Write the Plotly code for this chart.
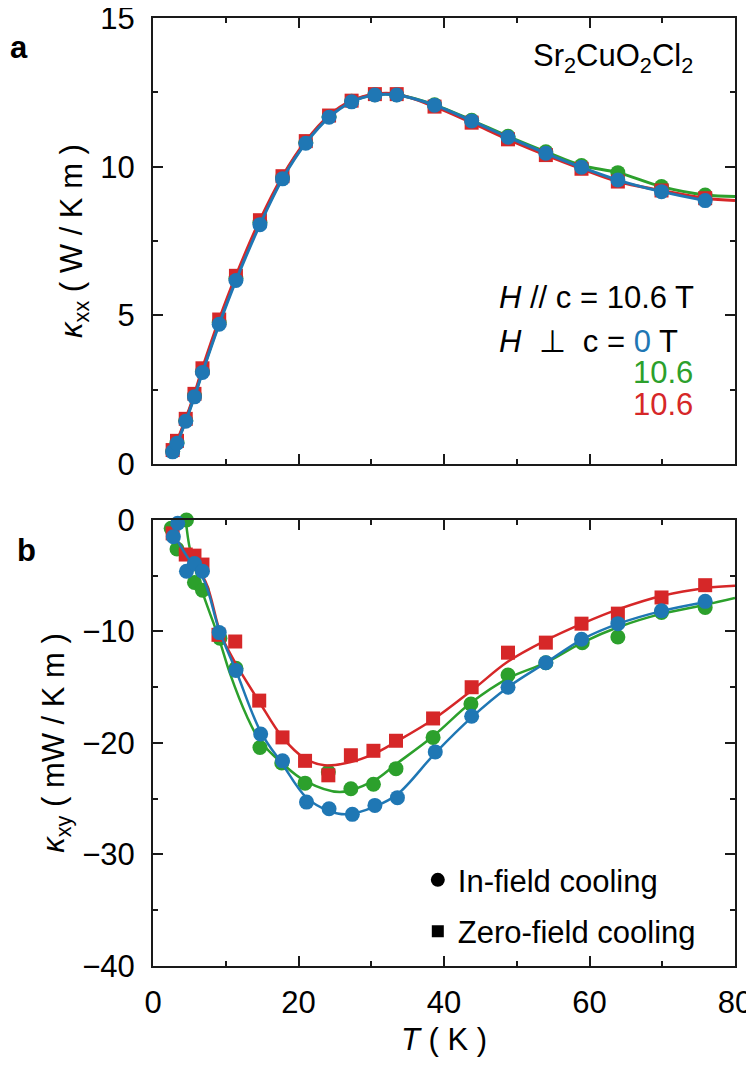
import plotly.graph_objects as go

# ---------------- data ----------------
# panel a : kappa_xx (W/K m)
T_a = [2.7, 3.3, 4.5, 5.7, 6.8, 9.1, 11.4, 14.7, 17.8, 21.0, 24.2, 27.3, 30.5, 33.5,
       38.7, 43.8, 48.8, 54.0, 58.9, 63.9, 69.9, 75.9]
kxx_blue = [0.41, 0.70, 1.44, 2.26, 3.08, 4.70, 6.17, 8.05, 9.59, 10.79, 11.66, 12.18,
            12.41, 12.41, 12.07, 11.54, 10.99, 10.45, 9.98, 9.55, 9.16, 8.86]
kxx_green = [0.43, 0.72, 1.47, 2.30, 3.12, 4.76, 6.24, 8.12, 9.64, 10.82, 11.69, 12.20,
             12.42, 12.42, 12.08, 11.56, 11.02, 10.50, 10.04, 9.80, 9.33, 9.05]
kxx_red = [0.47, 0.78, 1.52, 2.36, 3.22, 4.86, 6.33, 8.20, 9.68, 10.86, 11.72, 12.22,
           12.44, 12.44, 12.02, 11.48, 10.92, 10.39, 9.93, 9.50, 9.20, 8.94]
T_a_end = [80.0]
kxx_green_end = [9.00]
kxx_red_end = [8.86]

# panel b : kappa_xy (mW/K m), measured points
T_b_blue = [2.8, 3.4, 4.6, 5.7, 6.8, 9.1, 11.4, 14.8, 17.8, 21.1, 24.2, 27.4, 30.5, 33.6,
            38.8, 43.8, 48.8, 54.0, 58.9, 63.9, 69.9, 75.9]
kxy_blue = [-1.5, -0.3, -4.6, -3.9, -4.6, -10.1, -13.5, -19.2, -21.6, -25.3, -25.9, -26.4,
            -25.6, -24.9, -20.8, -17.6, -15.0, -12.8, -10.7, -9.3, -8.15, -7.3]
T_b_green = [2.5, 3.3, 4.6, 5.7, 6.8, 9.2, 11.4, 14.7, 17.7, 20.9, 24.1, 27.2, 30.3, 33.4,
             38.5, 43.7, 48.8, 54.0, 59.0, 63.9, 69.9, 75.9]
kxy_green = [-0.75, -2.6, 0.0, -5.6, -6.3, -10.6, -13.3, -20.4, -21.8, -23.6, -22.6, -24.1,
             -23.7, -22.3, -19.5, -16.5, -13.9, -12.8, -11.0, -10.5, -8.3, -7.85]
T_b_red = [2.7, 4.5, 5.7, 6.8, 9.0, 11.3, 14.6, 17.8, 20.9, 24.1, 27.2, 30.3, 33.4, 38.5,
           43.8, 48.8, 54.0, 58.9, 63.9, 69.9, 75.9]
kxy_red = [-1.2, -3.1, -3.2, -4.0, -10.3, -10.9, -16.2, -19.5, -21.6, -22.9, -21.1, -20.7,
           -19.8, -17.8, -15.0, -11.9, -11.0, -9.3, -8.4, -6.95, -5.85]

# panel b : smooth guide curves
T_fit_blue = [2.8, 4.6, 7.0, 9.1, 11.4, 14.8, 17.8, 21.1, 24.2, 26.6, 30.5, 33.6, 38.8,
              43.8, 48.8, 54.0, 59.0, 64.0, 70.0, 76.0]
kxy_fit_blue = [-1.2, -3.2, -5.4, -9.9, -13.5, -19.0, -21.9, -24.9, -26.1, -26.4, -25.7,
                -24.6, -20.9, -17.7, -15.0, -12.8, -10.7, -9.3, -8.15, -7.35]
T_fit_green = [4.5, 5.1, 6.7, 9.0, 10.6, 12.9, 14.7, 17.7, 20.9, 25.7, 30.3, 33.4, 38.5,
               43.7, 48.8, 54.0, 59.0, 64.0, 70.0, 76.0, 80.0]
kxy_fit_green = [0.0, -2.7, -6.3, -10.5, -13.8, -17.6, -19.8, -21.8, -23.4, -24.4, -23.4,
                 -21.9, -19.4, -16.4, -14.2, -12.8, -11.0, -9.6, -8.4, -7.6, -7.0]
T_fit_red = [2.5, 4.9, 7.2, 9.3, 11.3, 14.6, 17.8, 20.9, 23.6, 27.2, 30.3, 33.4, 38.5,
             43.8, 48.8, 54.0, 59.0, 64.0, 70.0, 76.0, 80.0]
kxy_fit_red = [-1.0, -3.4, -5.5, -10.2, -12.8, -16.3, -19.5, -21.4, -22.0, -21.7, -21.0,
               -19.9, -17.9, -15.3, -12.7, -10.8, -9.3, -8.0, -6.8, -6.1, -5.9]

x_ticks = [0, 20, 40, 60, 80]
ya_ticks = [0, 5, 10, 15]
yb_ticks = [-40, -30, -20, -10, 0]
yb_ticktext = ["−40", "−30", "−20", "−10", "0"]

BLUE = "#1f77b4"
GREEN = "#2ca02c"
RED = "#d62728"
FONT = "Liberation Sans, Arial, sans-serif"
FS = 31

# the page body has an 8 px margin: the figure is sized so the plot lands where the reference has it
OFF = 8
W, H = 754 - OFF, 1072 - OFF
ML, MR, MT, MB = 153 - OFF, 19, 18 - OFF, 106

fig = go.Figure()


def add_series(x, y, xl, yl, color, symbol, size, lw, xa, ya):
    fig.add_trace(go.Scatter(x=xl, y=yl, mode="lines",
                             line=dict(color=color, width=lw, shape="spline", smoothing=1.0),
                             xaxis=xa, yaxis=ya, showlegend=False, hoverinfo="skip"))
    fig.add_trace(go.Scatter(x=x, y=y, mode="markers",
                             marker=dict(color=color, symbol=symbol, size=size, line=dict(width=0)),
                             xaxis=xa, yaxis=ya, showlegend=False, cliponaxis=False))


# ---- panel a ----
add_series(T_a, kxx_green, T_a + T_a_end, kxx_green + kxx_green_end, GREEN, "circle", 15, 3, "x", "y")
add_series(T_a, kxx_red, T_a + T_a_end, kxx_red + kxx_red_end, RED, "square", 14, 3, "x", "y")
add_series(T_a, kxx_blue, T_a, kxx_blue, BLUE, "circle", 15, 3, "x", "y")

# ---- panel b ----
add_series(T_b_green, kxy_green, T_fit_green, kxy_fit_green, GREEN, "circle", 15, 2.5, "x2", "y2")
add_series(T_b_red, kxy_red, T_fit_red, kxy_fit_red, RED, "square", 14, 2.5, "x2", "y2")
add_series(T_b_blue, kxy_blue, T_fit_blue, kxy_fit_blue, BLUE, "circle", 15, 2.5, "x2", "y2")

# legend entries
fig.add_trace(go.Scatter(x=[None], y=[None], mode="markers", name="In-field cooling",
                         marker=dict(color="black", symbol="circle", size=14),
                         xaxis="x2", yaxis="y2", legendgroup="a"))
fig.add_trace(go.Scatter(x=[None], y=[None], mode="markers", name="Zero-field cooling",
                         marker=dict(color="black", symbol="square", size=12),
                         xaxis="x2", yaxis="y2", legendgroup="b"))

axis_common = dict(showline=True, linewidth=2, linecolor="#1a1a1a", mirror="ticks",
                   ticks="inside", ticklen=10, tickwidth=2, tickcolor="#1a1a1a",
                   showgrid=False, zeroline=False, automargin=False,
                   ticklabeloverflow="allow",
                   tickfont=dict(family=FONT, size=FS, color="black"))
minor_common = dict(ticks="inside", ticklen=5, tickwidth=1.5, tick0=0, tickcolor="#1a1a1a")

fig.update_layout(
    width=W, height=H,
    margin=dict(l=ML, r=MR, t=MT, b=MB),
    paper_bgcolor="white", plot_bgcolor="white",
    font=dict(family=FONT, size=FS, color="black"),
    showlegend=True,
    legend=dict(x=0.455, y=0.119, xanchor="left", yanchor="top", bgcolor="rgba(0,0,0,0)",
                font=dict(family=FONT, size=FS, color="black"), tracegroupgap=8,
                itemsizing="trace"),
    xaxis=dict(domain=[0, 1], anchor="y", range=[0, 80], tickvals=x_ticks, showticklabels=False,
               minor=dict(dtick=10, **minor_common), **axis_common),
    yaxis=dict(domain=[0.5295, 1], anchor="x", range=[0, 15], tickvals=ya_ticks,
               ticktext=[str(v) for v in ya_ticks], ticklabelstandoff=10,
               minor=dict(dtick=2.5, **minor_common),
               title=dict(text="<i>κ</i><sub>xx</sub> ( W / K m )", standoff=8,
                          font=dict(family=FONT, size=FS)),
               **axis_common),
    xaxis2=dict(domain=[0, 1], anchor="y2", range=[0, 80], tickvals=x_ticks,
                ticktext=[str(v) for v in x_ticks], ticklabelstandoff=8,
                minor=dict(dtick=10, **minor_common),
                title=dict(text="<i>T</i> ( K )", standoff=9, font=dict(family=FONT, size=FS)),
                **axis_common),
    yaxis2=dict(domain=[0, 0.4705], anchor="x2", range=[-40, 0], tickvals=yb_ticks,
                ticktext=yb_ticktext, ticklabelstandoff=10,
                minor=dict(dtick=5, **minor_common),
                title=dict(text="<i>κ</i><sub>xy</sub> ( mW / K m )", standoff=8,
                           font=dict(family=FONT, size=FS)),
                **axis_common),
)


def px_to_paper(px, py):
    # px, py: position in the final page (browser) pixels
    fx, fy = px - OFF, py - OFF
    pw = W - ML - MR
    ph = H - MT - MB
    return (fx - ML) / pw, (H - MB - fy) / ph


for txt, px, py, anchor, color in [
    ("<b>a</b>", 8, 48, "left", "black"),
    ("<b>b</b>", 15, 550, "left", "black"),
    ("Sr<sub>2</sub>CuO<sub>2</sub>Cl<sub>2</sub>", 531, 58, "left", "black"),
    ("<i>H</i> // c = 10.6 T", 497, 298, "left", "black"),
    ("<i>H</i>  ⊥  c = <span style='color:%s'>0</span> T" % BLUE, 497, 341, "left", "black"),
    ("10.6", 631, 372, "left", GREEN),
    ("10.6", 631, 404, "left", RED),
]:
    xp, yp = px_to_paper(px, py)
    fig.add_annotation(text=txt, x=xp, y=yp, xref="paper", yref="paper", xanchor=anchor,
                       yanchor="middle", showarrow=False,
                       font=dict(family=FONT, size=FS, color=color))

fig.write_html("out.html")
